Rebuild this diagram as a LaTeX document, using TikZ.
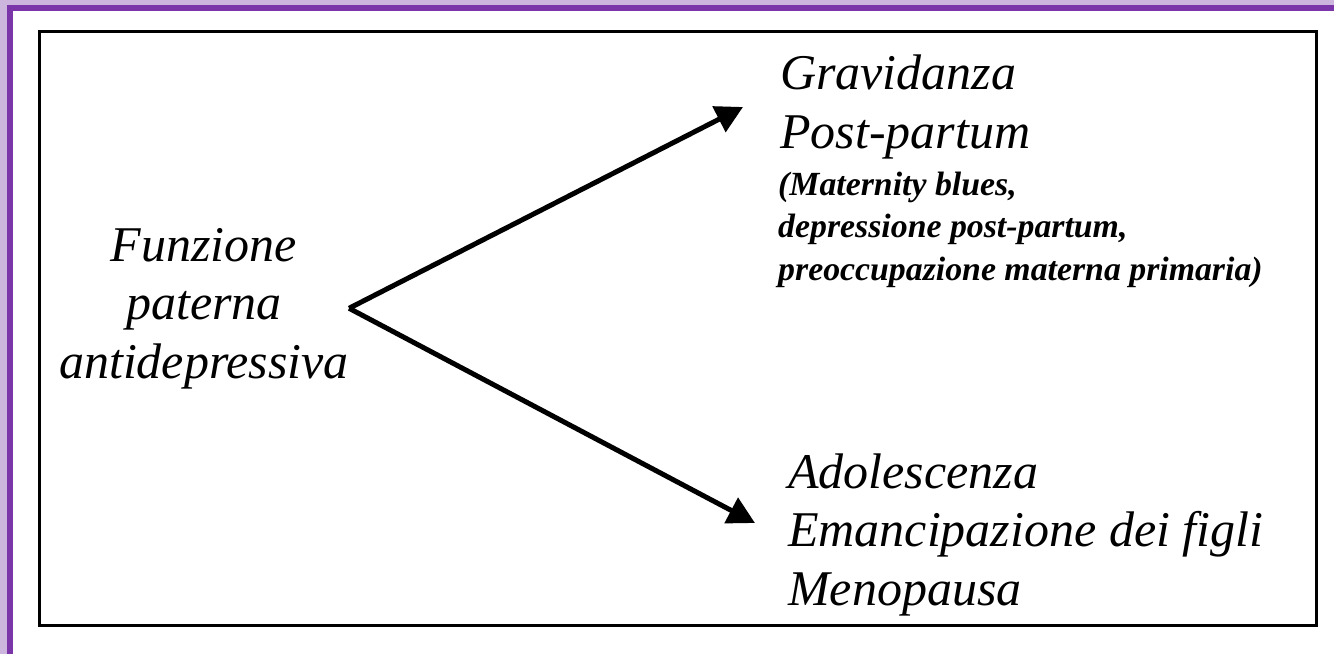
\documentclass[tikz,border=0pt]{standalone}
\usepackage{fontspec}
\setmainfont{Liberation Serif}
\usetikzlibrary{arrows.meta,positioning}
\definecolor{framelight}{RGB}{205,182,221}
\definecolor{framedark}{RGB}{122,54,168}

\begin{document}
\begin{tikzpicture}[x=1pt,y=-1pt,
    big/.style={font=\itshape\fontsize{50}{58.5}\selectfont,inner sep=0pt,align=left},
    small/.style={font=\bfseries\itshape\fontsize{33.8}{42.5}\selectfont,inner sep=0pt,align=left},
    link/.style={line width=5pt,-{Triangle[length=27pt,width=28pt]}}]
  \useasboundingbox (0,0) rectangle (1334,654);
  \fill[white] (0,0) rectangle (1334,654);
  % purple frame, top and left only
  \fill[framelight] (0,0) rectangle (1334,5.3);
  \fill[framelight] (0,0) rectangle (7,654);
  \fill[framedark] (7,5.3) rectangle (1334,11);
  \fill[framedark] (7,5.3) rectangle (12.7,654);
  \draw[line width=2.7pt] (39.5,31.3) rectangle (1316.3,625.3);
  \coordinate (pUp) at (743,107);
  \coordinate (pDown) at (755,523);
  % base anchor sits on the last line
  \node[big,align=center,anchor=base] (fpa) at (204,378) {Funzione\\paterna\\antidepressiva};
  \node[big,anchor=base west] (grav) at (780,148) {Gravidanza\\Post-partum};
  \node[small,anchor=base west] (note) at (778,280) {(Maternity blues,\\depressione post-partum,\\preoccupazione materna primaria)};
  \node[big,anchor=base west] (adol) at (788,605) {Adolescenza\\Emancipazione dei figli\\Menopausa};
  \draw[link] (fpa.east) -- (pUp);
  \draw[link] (fpa.east) -- (pDown);
\end{tikzpicture}
\end{document}
